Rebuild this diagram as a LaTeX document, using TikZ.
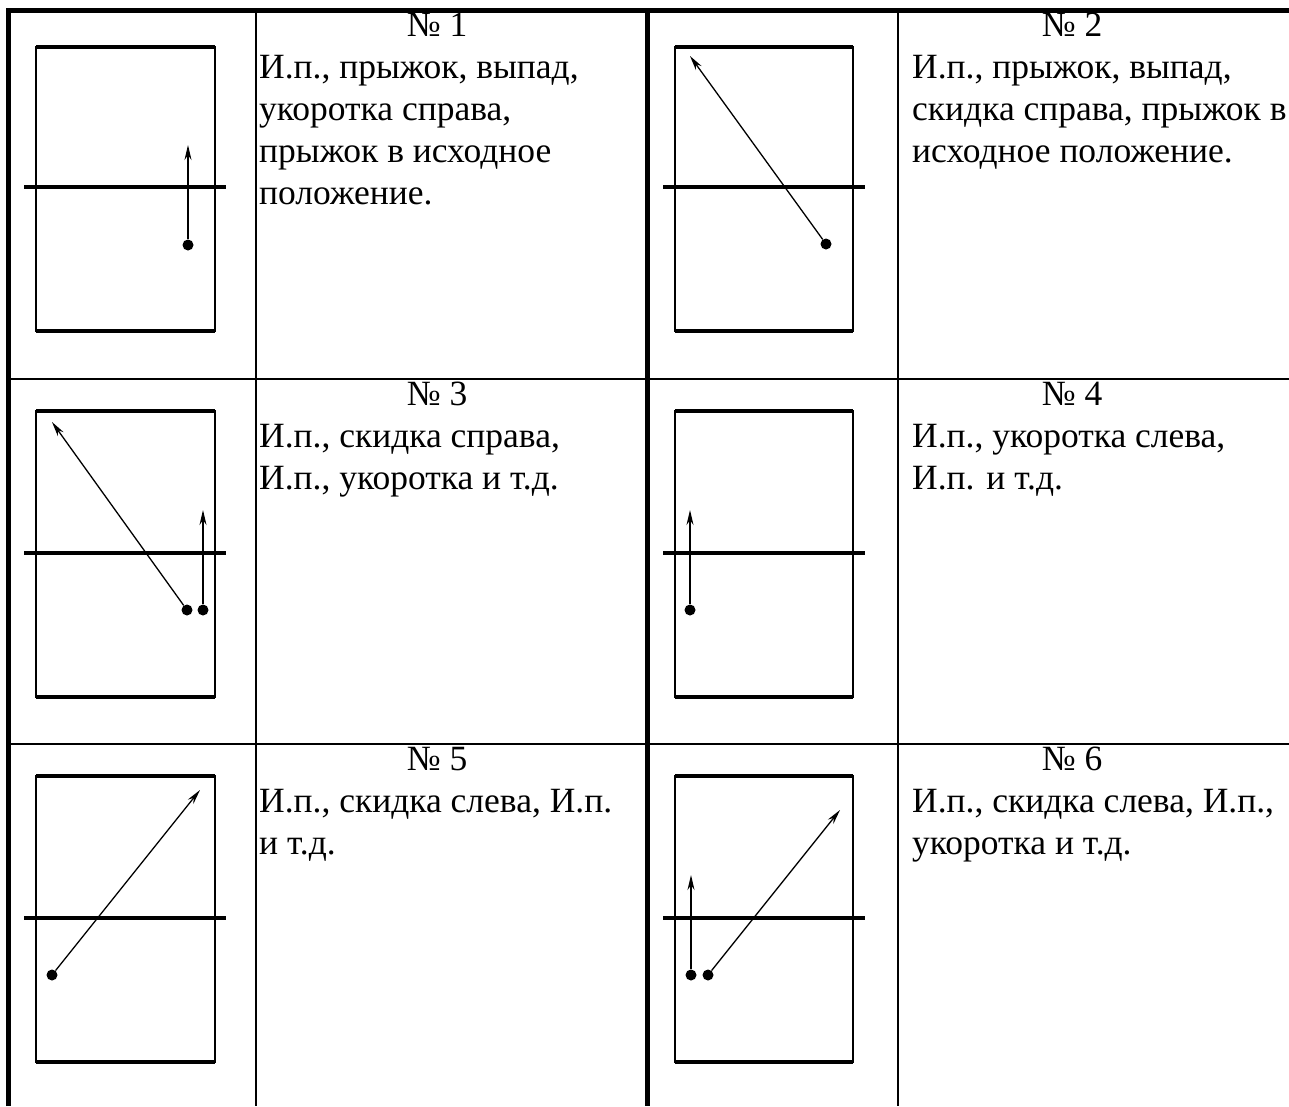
\documentclass[tikz,border=0pt]{standalone}
\usepackage{fontspec}
\setmainfont{Liberation Serif}
\usetikzlibrary{arrows.meta}

\tikzset{
  tablerule/.style={line width=2pt},
  boldrule/.style={line width=5pt},
  courtside/.style={line width=1.5pt},
  courtend/.style={line width=4pt},
  netline/.style={line width=4pt},
  move/.style={-{Stealth[length=15pt,width=7pt]}, line width=1.3pt},
  spot/.style={circle, fill, inner sep=0pt, minimum size=11pt},
  head/.style={anchor=base, inner sep=0pt, font=\fontsize{35.5}{42}\selectfont},
  task/.style={anchor=base west, align=left, inner sep=0pt, font=\fontsize{35.5}{42}\selectfont},
}

\begin{document}
\begin{tikzpicture}[x=1pt, y=-1pt]
    \useasboundingbox (0,0) rectangle (1289,1106);

    % Tabla
    \draw[boldrule] (8.5,1106) -- (8.5,10.5) -- (1289,10.5);
    \draw[boldrule] (647,10.5) -- (647,1106);
    \draw[tablerule] (256,10) -- (256,1106) (898,10) -- (898,1106);
    \draw[tablerule] (8,379) -- (1289,379) (8,744) -- (1289,744);

    % Canchas, fila 1
    \draw[courtside] (36,47) rectangle (215,331);
    \draw[courtend] (36,47) -- (215,47) (36,331) -- (215,331);
    \draw[netline] (24,187) -- (226,187);
    \draw[courtside] (675,47) rectangle (853,331);
    \draw[courtend] (675,47) -- (853,47) (675,331) -- (853,331);
    \draw[netline] (663,187) -- (865,187);

    % Canchas, fila 2
    \draw[courtside] (36,411) rectangle (215,697);
    \draw[courtend] (36,411) -- (215,411) (36,697) -- (215,697);
    \draw[netline] (24,553) -- (226,553);
    \draw[courtside] (675,411) rectangle (853,697);
    \draw[courtend] (675,411) -- (853,411) (675,697) -- (853,697);
    \draw[netline] (663,553) -- (865,553);

    % Canchas, fila 3
    \draw[courtside] (36,776) rectangle (215,1062);
    \draw[courtend] (36,776) -- (215,776) (36,1062) -- (215,1062);
    \draw[netline] (24,918) -- (226,918);
    \draw[courtside] (675,776) rectangle (853,1062);
    \draw[courtend] (675,776) -- (853,776) (675,1062) -- (853,1062);
    \draw[netline] (663,918) -- (865,918);

    % No 1
    \node[spot] (s1) at (188,245) {};
    \coordinate (t1) at (188,145);
    \draw[move] (s1) -- (t1);

    % No 2
    \node[spot] (s2) at (826,244) {};
    \coordinate (t2) at (690,56);
    \draw[move] (s2) -- (t2);

    % No 3
    \node[spot] (s3a) at (187,610) {};
    \node[spot] (s3b) at (203,610) {};
    \coordinate (t3a) at (52,422);
    \coordinate (t3b) at (203,510);
    \draw[move] (s3a) -- (t3a);
    \draw[move] (s3b) -- (t3b);

    % No 4
    \node[spot] (s4) at (690,610) {};
    \coordinate (t4) at (690,510);
    \draw[move] (s4) -- (t4);

    % No 5
    \node[spot] (s5) at (52,975) {};
    \coordinate (t5) at (200,790);
    \draw[move] (s5) -- (t5);

    % No 6
    \node[spot] (s6a) at (691,975) {};
    \node[spot] (s6b) at (708,975) {};
    \coordinate (t6a) at (691,875);
    \coordinate (t6b) at (840,810);
    \draw[move] (s6a) -- (t6a);
    \draw[move] (s6b) -- (t6b);

    % Textos (el punto base es la ultima linea)
    \node[head] (h1) at (437,36) {№ 1};
    \node[task] (d1) at (259,204) {И.п., прыжок, выпад,\\укоротка справа,\\прыжок в исходное\\положение.};
    \node[head] (h2) at (1072,36) {№ 2};
    \node[task] (d2) at (912,162) {И.п., прыжок, выпад,\\скидка справа, прыжок в\\исходное положение.};
    \node[head] (h3) at (437,405) {№ 3};
    \node[task] (d3) at (259,489) {И.п., скидка справа,\\И.п., укоротка и т.д.};
    \node[head] (h4) at (1072,405) {№ 4};
    \node[task] (d4) at (912,489) {И.п., укоротка слева,\\И.п. и т.д.};
    \node[head] (h5) at (437,770) {№ 5};
    \node[task] (d5) at (259,854) {И.п., скидка слева, И.п.\\и т.д.};
    \node[head] (h6) at (1072,770) {№ 6};
    \node[task] (d6) at (912,854) {И.п., скидка слева, И.п.,\\укоротка и т.д.};
\end{tikzpicture}
\end{document}
